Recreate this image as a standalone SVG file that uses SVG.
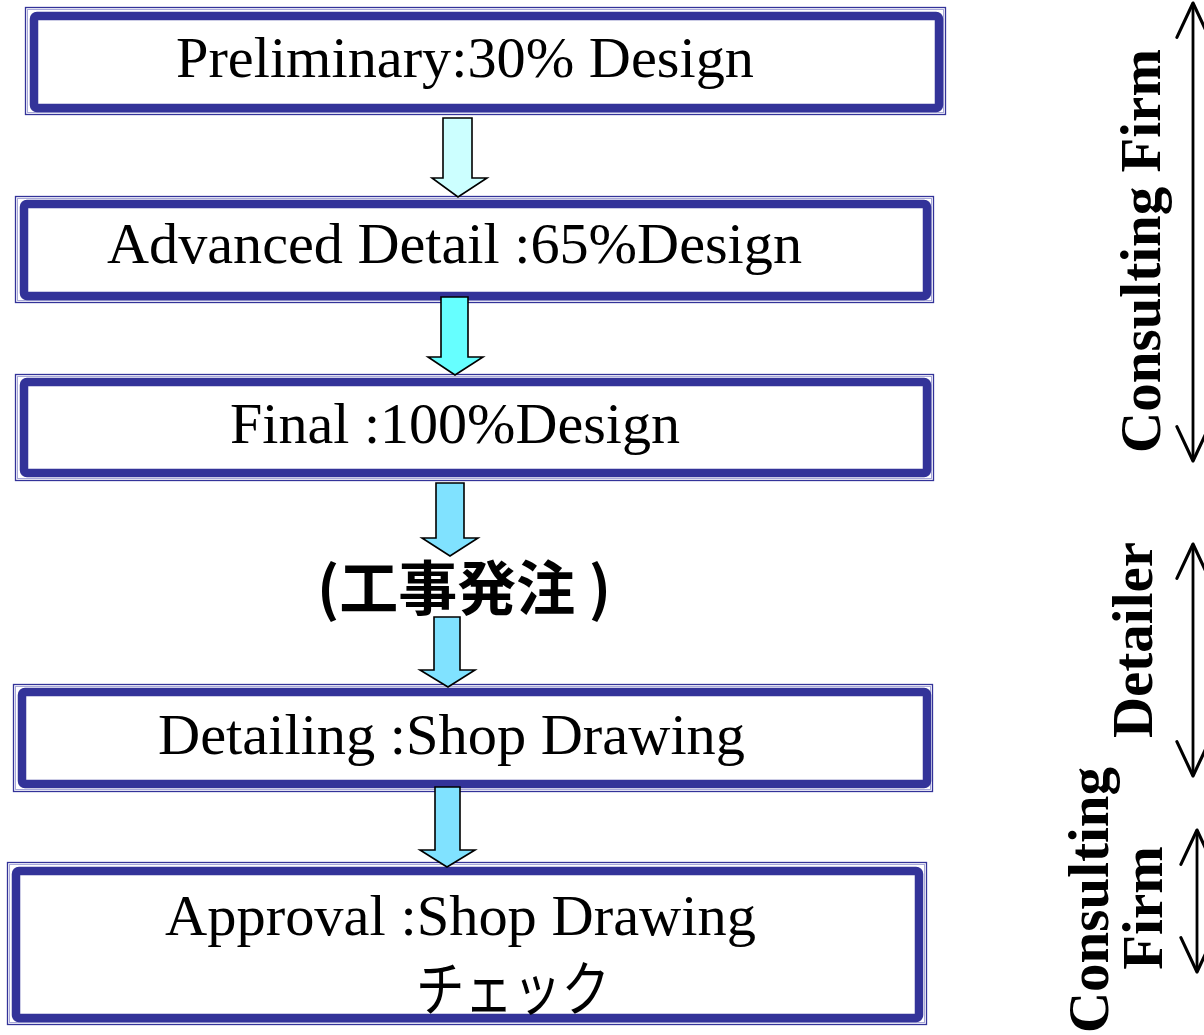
<svg xmlns="http://www.w3.org/2000/svg" width="1204" height="1035" viewBox="0 0 1204 1035">
  <style>
    .frame-outer { fill: none; stroke: #333399; stroke-width: 1.3; }
    .frame-inner { fill: none; stroke: #a8a8d8; stroke-width: 1; }
    .frame { fill: #ffffff; stroke: #333399; stroke-width: 8.5; }
    .label { font-family: "Liberation Serif", "Times New Roman", serif; font-size: 57px; fill: #000; }
    .side { font-family: "Liberation Serif", "Times New Roman", serif; font-size: 57px; font-weight: bold; fill: #000; text-anchor: middle; }
    .jp { font-family: "Noto Sans CJK JP", sans-serif; fill: #000; }
    .flow { stroke: #000; stroke-width: 1.6; stroke-linejoin: miter; }
    .span { fill: none; stroke: #000; stroke-width: 2.8; }
  </style>
  <defs>
    <marker id="open-head" markerUnits="userSpaceOnUse" orient="auto-start-reverse" refX="0" refY="0" markerWidth="40" markerHeight="40" viewBox="-34 -18 36 36" overflow="visible">
      <path d="M -31 -14.5 L 0 0 L -31 14.5" fill="none" stroke="#000" stroke-width="2.8" stroke-linecap="round" stroke-linejoin="round"/>
    </marker>
  </defs>

  <rect width="1204" height="1035" fill="#ffffff"/>

  <g id="preliminary">
    <rect class="frame-outer" x="25.5" y="7.5" width="920" height="107"/>
    <rect class="frame-inner" x="27.5" y="9.5" width="916" height="103"/>
    <rect class="frame" x="34" y="16" width="905" height="92" rx="3"/>
    <text class="label" x="176" y="77" textLength="578" lengthAdjust="spacingAndGlyphs">Preliminary:30% Design</text>
  </g>

  <g id="advanced-detail">
    <rect class="frame-outer" x="15.5" y="196.5" width="918" height="106"/>
    <rect class="frame-inner" x="17.5" y="198.5" width="914" height="102"/>
    <rect class="frame" x="24" y="204" width="903" height="92" rx="3"/>
    <text class="label" x="107" y="263" textLength="695" lengthAdjust="spacingAndGlyphs">Advanced Detail :65%Design</text>
  </g>

  <g id="final">
    <rect class="frame-outer" x="15.5" y="374.5" width="918" height="106"/>
    <rect class="frame-inner" x="17.5" y="376.5" width="914" height="102"/>
    <rect class="frame" x="24" y="382" width="903" height="91" rx="3"/>
    <text class="label" x="230" y="443" textLength="450" lengthAdjust="spacingAndGlyphs">Final :100%Design</text>
  </g>

  <g id="order">
    <text class="jp" font-size="59" font-weight="bold" x="317" y="610">(工事発注 )</text>
  </g>

  <g id="detailing">
    <rect class="frame-outer" x="13.5" y="684.5" width="919" height="107"/>
    <rect class="frame-inner" x="15.5" y="686.5" width="915" height="103"/>
    <rect class="frame" x="22" y="692" width="905" height="92" rx="3"/>
    <text class="label" x="158" y="754" textLength="587" lengthAdjust="spacingAndGlyphs">Detailing :Shop Drawing</text>
  </g>

  <g id="approval">
    <rect class="frame-outer" x="7.5" y="862.5" width="919" height="162"/>
    <rect class="frame-inner" x="9.5" y="864.5" width="915" height="158"/>
    <rect class="frame" x="16" y="871" width="903" height="147" rx="3"/>
    <text class="label" font-size="63" x="165" y="935" textLength="591" lengthAdjust="spacingAndGlyphs">Approval :Shop Drawing</text>
    <text class="jp" font-size="60" x="416" y="1011" textLength="194" lengthAdjust="spacingAndGlyphs">チェック</text>
  </g>

  <g id="role-consulting-top">
    <text class="side" transform="translate(1160 251) rotate(-90)">Consulting Firm</text>
  </g>
  <g id="role-detailer">
    <text class="side" transform="translate(1152 640) rotate(-90)">Detailer</text>
  </g>
  <g id="role-consulting-bottom">
    <text class="side" transform="translate(1108 900) rotate(-90)">Consulting</text>
    <text class="side" transform="translate(1162 908) rotate(-90)">Firm</text>
  </g>

  <!-- flow arrows between stages, drawn over the frames -->
  <g id="connectors">
    <path class="flow" fill="#ccffff" d="M443 118 H472 V178 H487 L458 197 L432 178 H443 Z"/>
    <path class="flow" fill="#66ffff" d="M441 297 H468 V357 H483 L455 375 L428 357 H441 Z"/>
    <path class="flow" fill="#80e2ff" d="M436 483 H464 V538 H478 L450 556 L422 538 H436 Z"/>
    <path class="flow" fill="#80e2ff" d="M434 617 H460 V670 H475 L448 687 L420 670 H434 Z"/>
    <path class="flow" fill="#80e2ff" d="M435 787 H460 V850 H475 L447 867 L420 850 H435 Z"/>

    <!-- responsibility spans -->
    <line class="span" x1="1193" y1="3" x2="1193" y2="461" marker-start="url(#open-head)" marker-end="url(#open-head)"/>
    <line class="span" x1="1193" y1="544" x2="1193" y2="776" marker-start="url(#open-head)" marker-end="url(#open-head)"/>
    <line class="span" x1="1197" y1="830" x2="1197" y2="972" marker-start="url(#open-head)" marker-end="url(#open-head)"/>
  </g>
</svg>
